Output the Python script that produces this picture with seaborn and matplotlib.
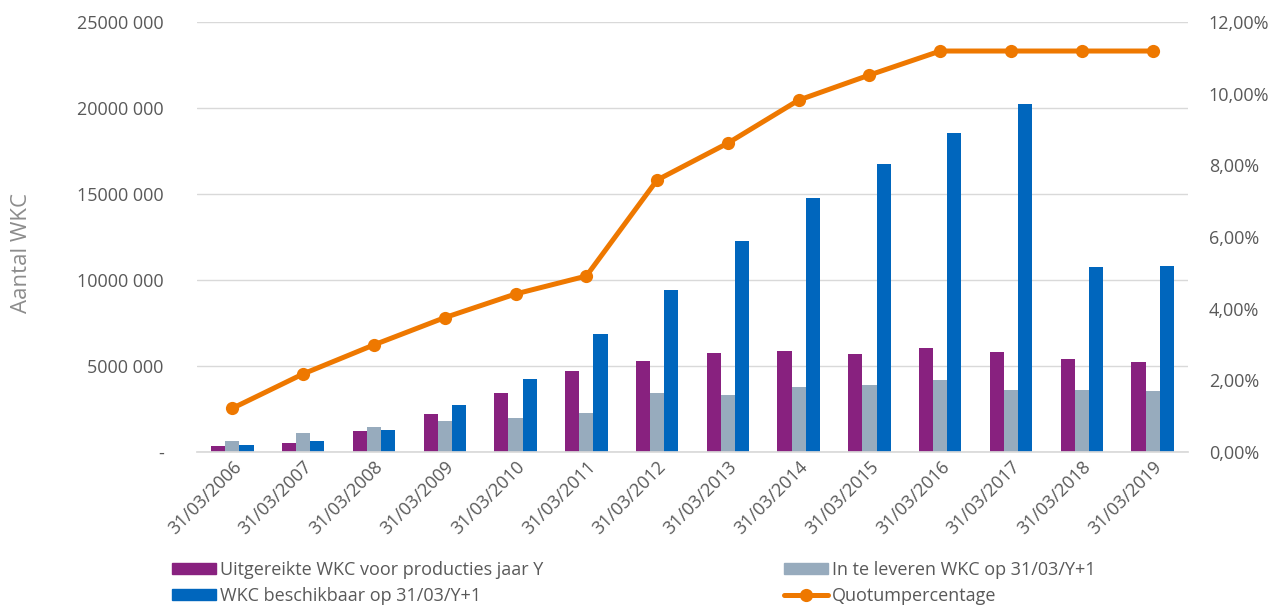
from matplotlib import pyplot as plt
from matplotlib.lines import Line2D
from matplotlib.patches import Patch
from matplotlib.ticker import FixedLocator
import numpy as np
import pandas as pd
import seaborn as sns

dates = ["31/03/2006", "31/03/2007", "31/03/2008", "31/03/2009", "31/03/2010",
         "31/03/2011", "31/03/2012", "31/03/2013", "31/03/2014", "31/03/2015",
         "31/03/2016", "31/03/2017", "31/03/2018", "31/03/2019"]
uitgereikt = [0.37, 0.54, 1.22, 2.23, 3.41, 4.73, 5.29, 5.74, 5.85, 5.68,
              6.03, 5.80, 5.41, 5.23]
in_te_leveren = [0.66, 1.09, 1.47, 1.78, 1.98, 2.29, 3.41, 3.29, 3.78, 3.90,
                 4.17, 3.60, 3.60, 3.55]
beschikbaar = [0.40, 0.66, 1.28, 2.73, 4.23, 6.86, 9.42, 12.27, 14.77, 16.74,
               18.55, 20.23, 10.76, 10.81]
quotum = [1.22, 2.18, 2.99, 3.75, 4.41, 4.91, 7.59, 8.62, 9.82, 10.52,
          11.19, 11.19, 11.19, 11.19]

series_names = ["Uitgereikte WKC voor producties jaar Y",
                "In te leveren WKC op 31/03/Y+1",
                "WKC beschikbaar op 31/03/Y+1"]
line_name = "Quotumpercentage"
left_ticks = ["-", "5000 000", "10000 000", "15000 000", "20000 000", "25000 000"]
right_ticks = ["0,00%", "2,00%", "4,00%", "6,00%", "8,00%", "10,00%", "12,00%"]

colors = ["#88217F", "#97ABBD", "#0066BD"]
orange = "#EE7800"
text_grey = "#595959"

df = pd.DataFrame({
    "datum": dates * 3,
    "reeks": [n for n in series_names for _ in dates],
    "waarde": [v * 1e6 for v in uitgereikt + in_te_leveren + beschikbaar],
})

sns.set_theme(style="white")
plt.rcParams["font.family"] = ["Open Sans", "DejaVu Sans"]

fig = plt.figure(figsize=(12.72, 6.10), dpi=100)
ax = fig.add_axes([197 / 1272, 1 - 452 / 610, 991 / 1272, 430 / 610])

sns.barplot(data=df, x="datum", y="waarde", hue="reeks", palette=colors,
            width=0.6, gap=0, saturation=1, linewidth=0, ax=ax, legend=False)

ax.set_ylim(0, 25e6)
ax.set_xlim(-0.5, len(dates) - 0.5)
ax.set_yticks(np.arange(0, 25e6 + 1, 5e6))
ax.set_yticklabels(left_ticks, color=text_grey, fontsize=13)
ax.yaxis.grid(True, color="#D9D9D9", linewidth=1)
ax.set_axisbelow(True)
for side in ["top", "right", "left"]:
    ax.spines[side].set_visible(False)
ax.spines["bottom"].set_color("#D9D9D9")
ax.tick_params(axis="y", length=0, pad=24)
ax.tick_params(axis="x", which="major", length=0, pad=4)
ax.xaxis.set_minor_locator(FixedLocator(np.arange(-0.5, len(dates), 1)))
ax.tick_params(axis="x", which="minor", length=6, color="#D9D9D9", width=1)
ax.set_xticks(range(len(dates)))
ax.set_xticklabels(dates, rotation=45, ha="right", rotation_mode="anchor",
                   color=text_grey, fontsize=13)
ax.set_xlabel("")
ax.set_ylabel("")
fig.text(22 / 1272, 1 - 253 / 610, "Aantal WKC", rotation=90, ha="center",
         va="center", color="#8C8C8C", fontsize=16)

ax2 = ax.twinx()
sns.lineplot(x=np.arange(len(dates)), y=quotum, color=orange, linewidth=3.6,
             marker="o", markersize=9.5, markeredgewidth=0, ax=ax2)
ax2.set_ylim(0, 12)
ax2.set_xlim(-0.5, len(dates) - 0.5)
ax2.set_yticks(np.arange(0, 12.1, 2))
ax2.set_yticklabels(right_ticks, color=text_grey, fontsize=13)
ax2.tick_params(axis="y", length=0, pad=15)
for side in ["top", "right", "left", "bottom"]:
    ax2.spines[side].set_visible(False)

h1 = [Patch(color=colors[0], label=series_names[0]),
      Patch(color=colors[2], label=series_names[2])]
h2 = [Patch(color=colors[1], label=series_names[1]),
      Line2D([], [], color=orange, linewidth=3.6, marker="o", markersize=9.5,
             markeredgewidth=0, label=line_name)]
for handles, x0 in [(h1, 156 / 1272), (h2, 768 / 1272)]:
    fig.legend(handles=handles, loc="lower left", bbox_to_anchor=(x0, -0.018),
               frameon=False, fontsize=13, labelcolor=text_grey,
               handlelength=2.4, handleheight=0.6, handletextpad=0.25,
               labelspacing=0.45)

fig.savefig("out.png", dpi=100)
